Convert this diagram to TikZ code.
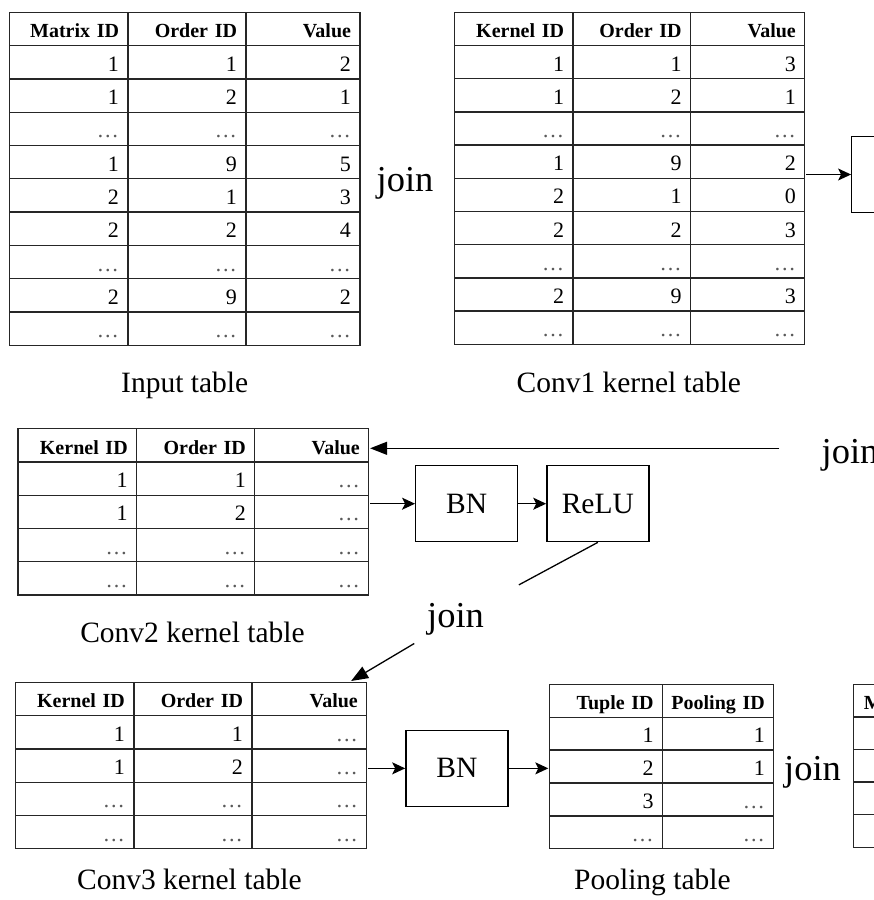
\documentclass[tikz,border=0pt]{standalone}
\usepackage{fontspec}
\setmainfont{Liberation Serif}
\usetikzlibrary{matrix,arrows.meta}

\definecolor{rulecol}{gray}{0.15}
\definecolor{dotgray}{gray}{0.35}
\newcommand\cellfont{\fontsize{22}{22}\selectfont}
\newcommand\headfont{\fontsize{20}{20}\selectfont\bfseries}
\newcommand\capfont{\fontsize{29.5}{29.5}\selectfont}
\newcommand\joinfont{\fontsize{36.5}{36.5}\selectfont}
\newcommand\etc{\textcolor{dotgray}{…}}
% right-flush a cell text without letting it wrap
\newcommand\flushtxt[1]{\makebox[0pt][r]{#1}}

\tikzset{
  tbl/.style n args={4}{
    matrix of nodes, nodes in empty cells, anchor=north west,
    inner sep=0pt, column sep=-1.3pt, row sep=-1.3pt,
    nodes={draw=rulecol, line width=1.3pt, minimum height=#1,
           text height=17.9pt, text depth=0pt, inner xsep=9pt, inner ysep=0pt,
           align=right, font=\cellfont},
    column 1/.style={nodes={text width=#2}},
    column 2/.style={nodes={text width=#3}},
    column 3/.style={nodes={text width=#4}},
    row 1/.style={nodes={font=\headfont}}
  },
  opbox/.style={draw=black, line width=1.3pt, minimum width=102pt,
                minimum height=76pt, inner sep=0pt, font=\capfont},
  caption/.style={anchor=base, inner sep=0pt, font=\capfont},
  joinlbl/.style={inner sep=0pt, font=\joinfont},
  arr/.style={-{Stealth[length=13pt,width=12pt,inset=3pt]}},
  blk/.style={-{Triangle[length=17pt,width=13pt]}}
}

\begin{document}
\begin{tikzpicture}[x=1pt,y=-1pt,line width=1.3pt]
\fill[white] (0,0) rectangle (874,900);
\useasboundingbox (0,0) rectangle (874,900);
\clip (0,0) rectangle (874,900);

% ---- top row: input table and first kernel table
\matrix (input) [tbl={33.3pt}{100.4pt}{100pt}{96pt}] at (8.3,11) {
Matrix ID & Order ID & Value \\
1 & 1 & 2 \\
1 & 2 & 1 \\
\etc & \etc & \etc \\
1 & 9 & 5 \\
2 & 1 & 3 \\
2 & 2 & 4 \\
\etc & \etc & \etc \\
2 & 9 & 2 \\
\etc & \etc & \etc \\
};
\node[caption] (capin) at (184.7,392.7) {Input table};
\node[joinlbl, anchor=base] (j1) at (405,191.7) {join};

\matrix (conv1) [tbl={33.2pt}{100.4pt}{99.6pt}{96.2pt}] at (453.3,11) {
Kernel ID & Order ID & Value \\
1 & 1 & 3 \\
1 & 2 & 1 \\
\etc & \etc & \etc \\
1 & 9 & 2 \\
2 & 1 & 0 \\
2 & 2 & 3 \\
\etc & \etc & \etc \\
2 & 9 & 3 \\
\etc & \etc & \etc \\
};
\node[caption] (capc1) at (628.8,392.7) {Conv1 kernel table};

\node[opbox] (box1) at (902.7,174.5) {};
\draw[arr] (conv1.east |- box1.west) -- (box1.west);

% ---- middle row: second kernel table, BN and ReLU
\matrix (conv2) [tbl={33.3pt}{100.7pt}{100.1pt}{96pt}] at (16.7,427.3) {
Kernel ID & Order ID & Value \\
1 & 1 & \etc \\
1 & 2 & \etc \\
\etc & \etc & \etc \\
\etc & \etc & \etc \\
};
\node[caption] (capc2) at (192.5,642.7) {Conv2 kernel table};

\node[joinlbl, anchor=base west] (jr) at (821,463.3) {join};
\coordinate (jrtail) at (779.3,448.3);
\draw[blk] (jrtail) -- (conv2.east |- jrtail);

\node[opbox] (bn1) at (466.7,503.7) {BN};
\node[opbox] (relu) at (597.85,503.7) {ReLU};
\draw[arr] (conv2.east |- bn1.west) -- (bn1.west);
\draw[arr] (bn1.east) -- (relu.west);

% ---- bottom row: third kernel table, BN and pooling
\matrix (conv3) [tbl={33.3pt}{100.7pt}{100.1pt}{96.8pt}] at (13.9,681) {
Kernel ID & Order ID & Value \\
1 & 1 & \etc \\
1 & 2 & \etc \\
\etc & \etc & \etc \\
\etc & \etc & \etc \\
};
\node[caption] (capc3) at (189.4,889) {Conv3 kernel table};

\node[joinlbl] (j2) at (455.5,619) {join};
\coordinate (c3tip) at ([xshift=-17pt]conv3.north east);
\draw[shorten >=72pt] (relu.south) -- (j2.center);
\draw[blk, shorten <=48pt] (j2.center) -- (c3tip);

\node[opbox] (bn2) at (456.85,768.35) {BN};
\draw[arr] (conv3.east |- bn2.west) -- (bn2.west);

\matrix (pool) [tbl={32.9pt}{95pt}{93.2pt}{90pt}] at (548.3,683) {
\flushtxt{Tuple ID} & \flushtxt{Pooling ID} \\
1 & 1 \\
2 & 1 \\
3 & \etc \\
\etc & \etc \\
};
\node[caption] (cappool) at (652.4,889) {Pooling table};
\draw[arr] (bn2.east) -- (pool.west |- bn2.east);

\node[joinlbl, anchor=base] (j3) at (812.5,780) {join};

\matrix (nextt) [tbl={32.6pt}{90pt}{90pt}{90pt}] at (852.5,683) {
Matrix ID \\
 \\
 \\
 \\
 \\
};
\end{tikzpicture}
\end{document}
